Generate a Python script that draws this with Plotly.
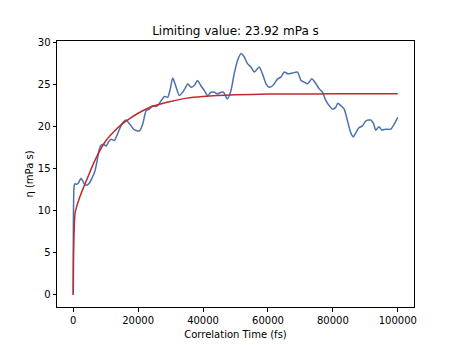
import plotly.graph_objects as go

# Blue: running viscosity estimate
time_fs = [0, 250, 500, 1000, 1600, 2400, 3000, 3600, 4300, 5000, 5800, 6600, 7300, 7900,
           8500, 9300, 10150, 10900, 11700, 12700, 13500, 14250, 15000, 15800, 16300, 17000,
           17850, 18600, 19400, 20400, 21400, 22000, 22460, 23500, 24500, 25200, 26000, 27100,
           28100, 29100, 29900, 30650, 31200, 31700, 32700, 33700, 34500, 35300, 36300, 37300,
           38300, 39300, 40400, 41400, 42450, 43500, 44500, 45500, 46300, 47500, 48600, 49600,
           50650, 51700, 52700, 53700, 54750, 55800, 57300, 58300, 59400, 60400, 61500, 63000,
           64000, 65000, 66200, 67600, 69100, 70200, 71200, 72200, 73500, 74800, 75800, 76800,
           77850, 78900, 79900, 80900, 81500, 82500, 83500, 84500, 85500, 86300, 87100, 88100,
           89100, 90200, 91700, 92500, 93200, 94200, 95100, 96300, 97800, 98900, 100000]
viscosity = [0, 12.8, 13.2, 13.15, 13.3, 13.85, 13.5, 13.1, 13.05, 13.3, 13.9, 14.6, 15.8, 17.1,
             17.75, 17.9, 17.7, 18.2, 18.5, 18.35, 19.0, 19.7, 20.3, 20.7, 20.8, 20.5,
             20.1, 19.7, 19.55, 19.5, 20.3, 21.3, 21.9, 22.1, 22.5, 22.4, 22.5, 23.1,
             23.6, 23.5, 24.5, 25.8, 25.3, 24.7, 23.7, 24.1, 24.6, 25.1, 24.7, 24.9,
             25.5, 24.9, 24.3, 23.7, 24.1, 24.1, 23.9, 24.1, 24.1, 23.3, 24.3, 26.3,
             27.9, 28.7, 28.3, 27.5, 27.1, 26.5, 27.1, 26.3, 25.1, 24.7, 24.9, 25.7,
             25.9, 26.5, 26.3, 26.4, 26.5, 25.5, 25.3, 25.1, 25.7, 25.1, 24.5, 24.1,
             23.1, 22.5, 22.1, 22.3, 22.8, 22.5, 22.1, 20.7, 19.3, 18.8, 19.3, 19.9,
             20.1, 20.7, 20.8, 20.4, 19.6, 20.0, 19.6, 19.7, 19.7, 20.3, 21.1]

# Red: fitted curve
fit_time = [0, 100, 300, 600, 1000, 2000, 3000, 4500, 6000, 8000, 10000, 12500, 15000, 17500,
            20000, 22500, 25000, 30000, 35000, 40000, 50000, 60000, 70000, 80000, 90000, 100000]
fit_visc = [0, 4.5, 8.0, 9.8, 10.4, 11.6, 12.6, 14.0, 15.4, 17.0, 18.3, 19.4, 20.3, 21.0,
            21.6, 22.1, 22.5, 23.0, 23.4, 23.6, 23.8, 23.88, 23.9, 23.91, 23.92, 23.92]

title_text = "Limiting value: 23.92 mPa s"
x_ticks = [0, 20000, 40000, 60000, 80000, 100000]
y_ticks = [0, 5, 10, 15, 20, 25, 30]

fig = go.Figure()
fig.add_trace(go.Scatter(x=time_fs, y=viscosity, mode="lines",
                         line=dict(color="#4a72b0", width=1.5, shape="spline", smoothing=0.6),
                         showlegend=False))
fig.add_trace(go.Scatter(x=fit_time, y=fit_visc, mode="lines",
                         line=dict(color="#be2a2e", width=1.5, shape="spline", smoothing=0.5),
                         showlegend=False))

font = "DejaVu Sans"
fig.update_layout(
    width=460, height=345,
    margin=dict(l=57, r=46, t=41, b=38),
    paper_bgcolor="white", plot_bgcolor="white",
    font=dict(family=font, size=10, color="black"),
    title=dict(text=title_text, x=(57 + 414) / 2 / 460, xanchor="center",
               y=1 - 31 / 345, yanchor="middle", font=dict(size=12, color="black")),
    xaxis=dict(range=[-5000, 105000], tickvals=x_ticks, ticktext=[str(v) for v in x_ticks],
               showgrid=False, zeroline=False, showline=True, linecolor="black", linewidth=1,
               mirror=True, ticks="outside", ticklen=3.5, tickcolor="black", automargin=False,
               title=dict(text="Correlation Time (fs)", font=dict(size=10), standoff=6)),
    yaxis=dict(range=[-1.46, 30.2], tickvals=y_ticks, showgrid=False, zeroline=False,
               showline=True, linecolor="black", linewidth=1, mirror=True, ticks="outside",
               ticklen=3.5, tickcolor="black", automargin=False,
               title=dict(text="η (mPa s)", font=dict(size=10), standoff=2)),
)

fig.write_html("out.html")
